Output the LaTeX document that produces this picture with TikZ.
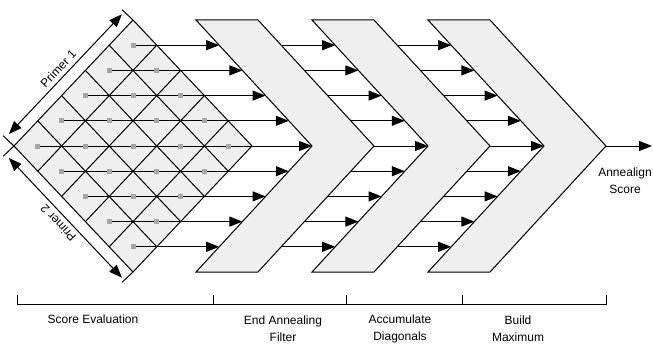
\documentclass[tikz,border=0pt]{standalone}
\usepackage{fontspec}
\setmainfont{Liberation Sans}
\usepackage{xcolor}
\usepackage{tikz}
\usetikzlibrary{arrows.meta,calc}

\definecolor{cellgray}{HTML}{EFEFEF}
\definecolor{markgray}{HTML}{A6A6A6}

\begin{document}
\begin{tikzpicture}[x=1pt, y=-1pt, font=\fontsize{12}{17}\selectfont,
    gridline/.style={line width=1pt},
    stage/.style={fill=cellgray, draw=black, line width=1pt},
    flow/.style={line width=1pt, -{Triangle[length=13pt,width=10pt]}},
    dim/.style={line width=1pt, {Triangle[length=13pt,width=10pt]}-{Triangle[length=13pt,width=10pt]}},
    marker/.style={fill=markgray, inner sep=0pt, minimum size=5pt}]
    \useasboundingbox (0,0) rectangle (653,345);

    % Score matrix
    \coordinate (L) at (14,146);
    \coordinate (T) at (133,20);
    \coordinate (R) at (252,146);
    \coordinate (B) at (133,272);
    \fill[cellgray] (L) -- (T) -- (R) -- (B) -- cycle;
    \foreach \k in {0,...,5} {
        \draw[gridline] ($(L)!\k/5!(T)$) -- ($(B)!\k/5!(R)$);
        \draw[gridline] ($(L)!\k/5!(B)$) -- ($(T)!\k/5!(R)$);
    }

    % Pipeline stages
    \foreach \s in {0,1,2} {
        \pgfmathsetmacro\tl{196+116*\s}
        \draw[stage] (\tl,20) -- ++(62,0) -- ++(116,126) -- ++(-116,126)
            -- ++(-62,0) -- ++(116,-126) -- cycle;
        \coordinate (tip\s) at (\tl+178,146);
        \foreach \r in {1,...,9} {
            \pgfmathsetmacro\y{146+25.2*(\r-5)}
            \pgfmathsetmacro\d{23.2*abs(\r-5)}
            \coordinate (in\s-\r) at (\tl+116-\d,\y);
            \coordinate (out\s-\r) at (\tl+178-\d,\y);
        }
    }

    % Cell centres
    \foreach \i in {0,...,4}
        \foreach \j in {0,...,4}
            \coordinate (c\i\j) at ({14+23.8*(\i+\j+1)}, {146+25.2*(\j-\i)});

    % Diagonal flows
    \foreach \r in {1,...,9} {
        \pgfmathtruncatemacro\i{max(5-\r,0)}
        \pgfmathtruncatemacro\j{max(\r-5,0)}
        \draw[flow] (c\i\j) -- (in0-\r);
        \draw[flow] (out0-\r) -- (in1-\r);
        \draw[flow] (out1-\r) -- (in2-\r);
    }
    \coordinate (exit) at (652,146);
    \draw[flow] (tip2) -- (exit);
    \node[align=center] (score) at (625,181) {Annealign\\Score};

    % Cell markers
    \foreach \i in {0,...,4}
        \foreach \j in {0,...,4}
            \node[marker] (m\i\j) at (c\i\j) {};

    % Primer lengths
    \draw[line width=1pt] (L) -- ++(-10.9,-10.3);
    \draw[line width=1pt] (T) -- ++(-10.9,-10.3);
    \draw[line width=1pt] (L) -- ++(-10.9,10.3);
    \draw[line width=1pt] (B) -- ++(-10.9,10.3);
    \coordinate (p1a) at ($(L)!0.03!(T)+(-8.7,-8.2)$);
    \coordinate (p1b) at ($(L)!0.98!(T)+(-8.7,-8.2)$);
    \coordinate (p2a) at ($(L)!0.03!(B)+(-8.7,8.2)$);
    \coordinate (p2b) at ($(L)!0.98!(B)+(-8.7,8.2)$);
    \draw[dim] (p1a) -- (p1b);
    \draw[dim] (p2a) -- (p2b);
    \node[rotate=46.6, inner sep=1pt] (primer1) at ($(L)!0.5!(T)+(-15.3,-14.4)$) {Primer 1};
    \node[rotate=133.4, inner sep=1pt] (primer2) at ($(L)!0.5!(B)+(-15.3,14.4)$) {Primer 2};

    % Stage ranges
    \draw[line width=0.8pt] (17,295) -- (17,304) -- (606,304) -- (606,295);
    \foreach \x in {213,346,462}
        \draw[line width=0.8pt] (\x,295) -- (\x,304);
    \node (eval) at (93,319) {Score Evaluation};
    \node[align=center] (filter) at (283,329) {End Annealing\\Filter};
    \node[align=center] (accum) at (400,329) {Accumulate\\Diagonals};
    \node[align=center] (build) at (518,329) {Build\\Maximum};
\end{tikzpicture}
\end{document}
